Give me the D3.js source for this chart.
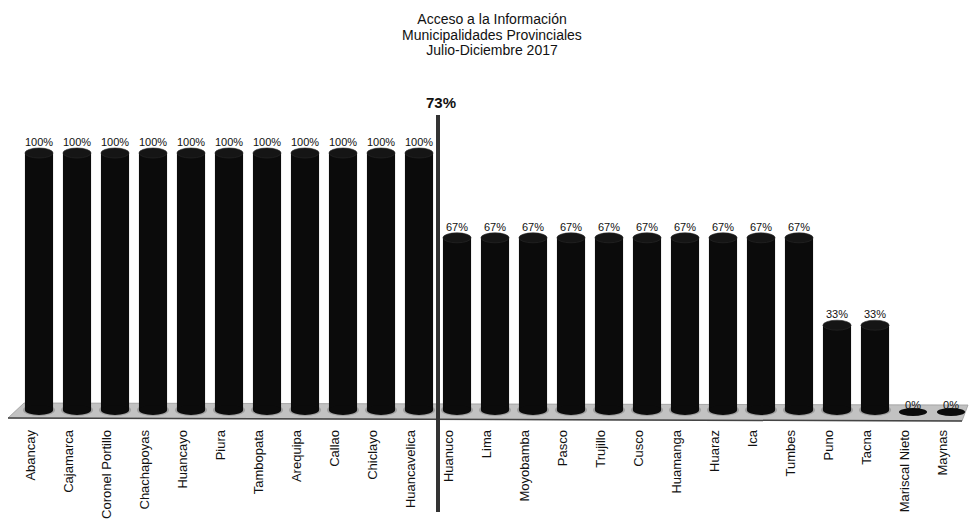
<!DOCTYPE html>
<html>
<head>
<meta charset="utf-8">
<script src="https://cdn.jsdelivr.net/npm/d3@7"></script>
<style>
  html, body { margin: 0; padding: 0; background: #fff; }
  svg { display: block; font-family: "Liberation Sans", Arial, sans-serif; }
</style>
</head>
<body>
<svg id="chart" width="971" height="522"></svg>
<script>
const titleLines = ["Acceso a la Información", "Municipalidades Provinciales", "Julio-Diciembre 2017"];
const categories = ["Abancay", "Cajamarca", "Coronel Portillo", "Chachapoyas", "Huancayo", "Piura",
  "Tambopata", "Arequipa", "Callao", "Chiclayo", "Huancavelica", "Huanuco", "Lima", "Moyobamba",
  "Pasco", "Trujillo", "Cusco", "Huamanga", "Huaraz", "Ica", "Tumbes", "Puno", "Tacna",
  "Mariscal Nieto", "Maynas"];
const values = [100, 100, 100, 100, 100, 100, 100, 100, 100, 100, 100,
  67, 67, 67, 67, 67, 67, 67, 67, 67, 67, 33, 33, 0, 0];
const averageValue = 73;
const averageAfter = "Huancavelica";

const svg = d3.select("#chart");

const x = d3.scaleBand().domain(categories).range([20, 970]).paddingInner(0.26).paddingOuter(0.13);
const y = d3.scaleLinear().domain([0, 100]).range([410, 153]);
const bw = x.bandwidth();
const ry = 5;

// Title
svg.append("g").selectAll("text").data(titleLines).join("text")
  .attr("x", 492).attr("y", (d, i) => 24 + i * 15.5)
  .attr("text-anchor", "middle").attr("font-size", 14).attr("fill", "#111")
  .text(d => d);

// Floor
const floorTop = y(0) - 7, floorBot = y(0) + 8;
svg.append("path")
  .attr("d", `M${x.range()[0] + 4},${floorTop} L${x.range()[1] - 2},${floorTop + 2} L${x.range()[1] - 8},${floorBot + 3} L${x.range()[0] - 12},${floorBot} Z`)
  .attr("fill", "#c2c2c2").attr("stroke", "#9a9a9a").attr("stroke-width", 0.8);
svg.append("line")
  .attr("x1", x.range()[0] - 12).attr("y1", floorBot)
  .attr("x2", x.range()[1] - 8).attr("y2", floorBot + 3)
  .attr("stroke", "#444").attr("stroke-width", 1.5);

// Bars (cylinders)
const bars = svg.append("g").selectAll("g").data(categories).join("g");
bars.each(function(c, i) {
  const g = d3.select(this);
  const v = values[i];
  const cx = x(c) + bw / 2;
  if (v > 0) {
    g.append("ellipse").attr("cx", cx).attr("cy", y(0)).attr("rx", bw / 2 + 2).attr("ry", ry + 1)
      .attr("fill", "#a0a0a0");
    g.append("rect").attr("x", x(c)).attr("y", y(v)).attr("width", bw).attr("height", y(0) - y(v))
      .attr("fill", "#0b0b0b");
    g.append("ellipse").attr("cx", cx).attr("cy", y(0)).attr("rx", bw / 2).attr("ry", ry)
      .attr("fill", "#0b0b0b");
    g.append("ellipse").attr("cx", cx).attr("cy", y(v)).attr("rx", bw / 2).attr("ry", ry)
      .attr("fill", "#151515").attr("stroke", "#2a2a2a").attr("stroke-width", 0.6);
  } else {
    g.append("ellipse").attr("cx", cx).attr("cy", y(0) + 2).attr("rx", bw / 2).attr("ry", ry - 1)
      .attr("fill", "#0b0b0b");
  }
  g.append("text").attr("x", cx).attr("y", y(v) - (v > 0 ? 7 : 1))
    .attr("text-anchor", "middle").attr("font-size", 11).attr("fill", "#111")
    .text(v + "%");
});

// Category labels (rotated)
svg.append("g").selectAll("text").data(categories).join("text")
  .attr("transform", d => `translate(${x(d) + bw / 2 - 9},430) rotate(-90)`)
  .attr("text-anchor", "end").attr("dy", "0.35em")
  .attr("font-size", 13).attr("fill", "#111")
  .text(d => d);

// Average line
const iA = categories.indexOf(averageAfter);
const ax = (x(categories[iA]) + bw + x(categories[iA + 1])) / 2;
svg.append("line").attr("x1", ax).attr("x2", ax).attr("y1", 115).attr("y2", 512)
  .attr("stroke", "#333").attr("stroke-width", 4);
svg.append("text").attr("x", ax + 3).attr("y", 108).attr("text-anchor", "middle")
  .attr("font-size", 15).attr("font-weight", "bold").attr("fill", "#111")
  .text(averageValue + "%");
</script>
</body>
</html>
